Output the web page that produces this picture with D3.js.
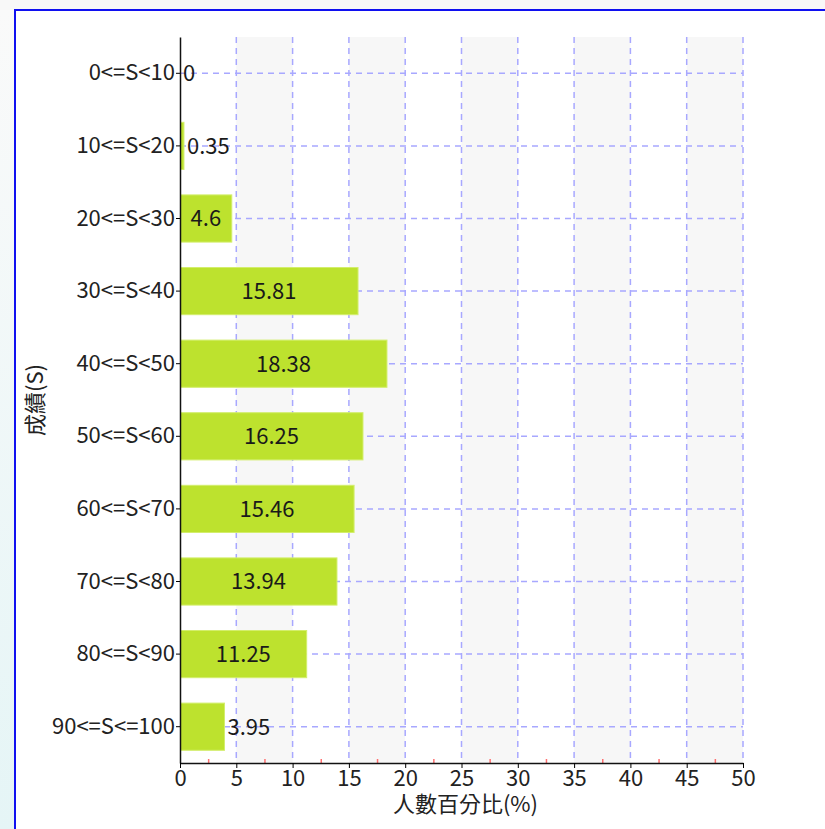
<script src="https://d3js.org/d3.v7.min.js"></script>

<style>
  body { margin: 0; background: #f8f8f8; }
  text { font-family: "Noto Sans CJK TC", "Noto Sans", sans-serif; }
</style>

<body>
  <div id="bar-chart"></div>
</body>

<script>
// data
var categories = ["0<=S<10", "10<=S<20", "20<=S<30", "30<=S<40", "40<=S<50",
                  "50<=S<60", "60<=S<70", "70<=S<80", "80<=S<90", "90<=S<=100"]
var values = [0, 0.35, 4.6, 15.81, 18.38, 16.25, 15.46, 13.94, 11.25, 3.95]
var xTicks = [0, 5, 10, 15, 20, 25, 30, 35, 40, 45, 50]
var xMinorTicks = [2.5, 7.5, 12.5, 17.5, 22.5, 27.5, 32.5, 37.5, 42.5, 47.5]
var xTitle = "人數百分比(%)"
var yTitle = "成績(S)"

var width = 825, height = 829
var margin = {top: 37, right: 82, bottom: 66, left: 180}
var fontSize = 22

var svg = d3.select("#bar-chart")
  .append("svg")
  .attr("width", width)
  .attr("height", height)

// page frame: grey top strip, gradient left strip, blue border
var grad = svg.append("defs").append("linearGradient")
  .attr("id", "leftStrip")
  .attr("x1", 0).attr("y1", 0).attr("x2", 0).attr("y2", 1)
grad.append("stop").attr("offset", "0%").attr("stop-color", "#fafafa")
grad.append("stop").attr("offset", "100%").attr("stop-color", "#e5f5f6")

svg.append("rect").attr("x", 0).attr("y", 0).attr("width", width).attr("height", 10).attr("fill", "#f8f8f8")
svg.append("rect").attr("x", 0).attr("y", 10).attr("width", 15).attr("height", height - 10).attr("fill", "url(#leftStrip)")
svg.append("rect").attr("x", 15).attr("y", 10).attr("width", width - 15).attr("height", height - 10).attr("fill", "white")
svg.append("path")
  .attr("d", "M15," + height + " V10 H" + width)
  .attr("fill", "none")
  .attr("stroke", "#1010f0")
  .attr("stroke-width", 2)

// scales
var x = d3.scaleLinear()
  .domain([0, 50])
  .range([margin.left, width - margin.right])

var y = d3.scaleBand()
  .domain(categories)
  .range([margin.top, height - margin.bottom])
  .paddingInner(0.35)
  .paddingOuter(0.175)

var plotTop = margin.top, plotBottom = height - margin.bottom

// alternating stripes
for (var i = 0; i < xTicks.length - 1; i++) {
  if (i % 2 == 1) {
    svg.append("rect")
      .attr("x", x(xTicks[i]))
      .attr("y", plotTop)
      .attr("width", x(xTicks[i + 1]) - x(xTicks[i]))
      .attr("height", plotBottom - plotTop)
      .attr("fill", "#f7f7f7")
  }
}

// grid lines
svg.selectAll(".vgrid")
  .data(xTicks.slice(1))
  .enter()
  .append("line")
  .attr("x1", function(d){ return x(d) })
  .attr("x2", function(d){ return x(d) })
  .attr("y1", plotTop)
  .attr("y2", plotBottom)
  .attr("stroke", "#a8a8ff")
  .attr("stroke-width", 1.5)
  .attr("stroke-dasharray", "6,5")

svg.selectAll(".hgrid")
  .data(categories)
  .enter()
  .append("line")
  .attr("x1", x(0))
  .attr("x2", x(50))
  .attr("y1", function(d){ return y(d) + y.bandwidth() / 2 })
  .attr("y2", function(d){ return y(d) + y.bandwidth() / 2 })
  .attr("stroke", "#a8a8ff")
  .attr("stroke-width", 1.5)
  .attr("stroke-dasharray", "6,5")

// bars
svg.selectAll(".bar")
  .data(values)
  .enter()
  .append("rect")
  .attr("x", x(0) + 0.5)
  .attr("y", function(d, i){ return y(categories[i]) })
  .attr("width", function(d){ return Math.max(0, x(d) - x(0) - 0.5) })
  .attr("height", y.bandwidth())
  .attr("fill", "#bde22e")
  .attr("stroke", "#d3ee6c")
  .attr("stroke-width", 1)

// value labels: inside the bar when it fits, otherwise just past its end
svg.selectAll(".val")
  .data(values)
  .enter()
  .append("text")
  .attr("y", function(d, i){ return y(categories[i]) + y.bandwidth() / 2 })
  .attr("dy", "0.36em")
  .attr("font-size", fontSize)
  .attr("fill", "#1a1a1a")
  .text(function(d){ return d })
  .each(function(d){
    var w = this.getComputedTextLength()
    var barW = x(d) - x(0)
    if (w + 8 < barW) {
      d3.select(this).attr("x", x(0) + barW / 2).attr("text-anchor", "middle")
    } else {
      d3.select(this).attr("x", x(d) + 3).attr("text-anchor", "start")
    }
  })

// axes
var yAxis = svg.append("g")
  .attr("transform", "translate(" + x(0) + ",0)")
  .call(d3.axisLeft(y).tickSize(4).tickSizeOuter(0).tickPadding(1))
yAxis.select(".domain").attr("stroke", "#111").attr("stroke-width", 1.5)
yAxis.selectAll("text").attr("font-size", fontSize).attr("fill", "#222")

var xMinor = svg.append("g")
  .attr("transform", "translate(0," + plotBottom + ")")
  .call(d3.axisBottom(x).tickValues(xMinorTicks).tickSize(-4).tickFormat(""))
xMinor.select(".domain").remove()
xMinor.selectAll("line").attr("stroke", "#ff7070").attr("stroke-width", 1.5)

var xAxis = svg.append("g")
  .attr("transform", "translate(0," + plotBottom + ")")
  .call(d3.axisBottom(x).tickValues(xTicks).tickSize(5).tickSizeOuter(0).tickPadding(2))
xAxis.select(".domain").attr("stroke", "#111").attr("stroke-width", 1.5)
xAxis.selectAll("text").attr("font-size", fontSize).attr("fill", "#222")

// axis titles
svg.append("text")
  .attr("x", (x(0) + x(50)) / 2 + 4)
  .attr("y", 812)
  .attr("text-anchor", "middle")
  .attr("font-size", fontSize)
  .attr("fill", "#222")
  .text(xTitle)

svg.append("text")
  .attr("transform", "translate(43," + (plotTop + plotBottom) / 2 + ") rotate(-90)")
  .attr("text-anchor", "middle")
  .attr("font-size", fontSize)
  .attr("fill", "#222")
  .text(yTitle)
</script>
